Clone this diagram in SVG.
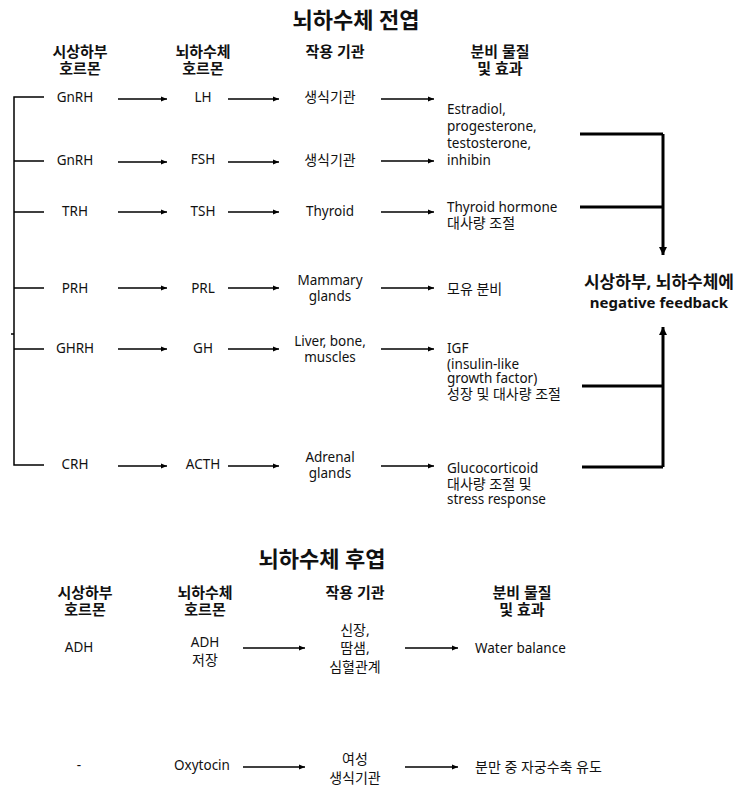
<svg xmlns="http://www.w3.org/2000/svg" width="748" height="800" viewBox="0 0 748 800">
<defs>
<marker id="ah" viewBox="0 0 10 10" refX="10" refY="5" markerWidth="8" markerHeight="6" markerUnits="userSpaceOnUse" orient="auto">
<path d="M0,1 L10,5 L0,9 z" fill="#000"/>
</marker>
<marker id="ahb" viewBox="0 0 10 10" refX="10" refY="5" markerWidth="10" markerHeight="8" markerUnits="userSpaceOnUse" orient="auto">
<path d="M0,0 L10,5 L0,10 z" fill="#000"/>
</marker>
<style>
text{font-family:"Noto Sans","Noto Sans CJK KR",sans-serif;fill:#111;}
.t{font-size:13.5px;}
.k{font-size:14px;}
.c{text-anchor:middle;}
.h{font-size:15px;font-weight:bold;text-anchor:middle;}
.title{font-size:22px;font-weight:bold;text-anchor:middle;}
.fb{font-size:15px;font-weight:bold;text-anchor:middle;}
.fk{font-size:17px;}
.a{stroke:#000;stroke-width:1.5;fill:none;marker-end:url(#ah);}
.l{stroke:#000;stroke-width:1.5;fill:none;}
.b{stroke:#000;stroke-width:3;fill:none;}
.ba{stroke:#000;stroke-width:3;fill:none;marker-end:url(#ahb);}
</style>
</defs>
<rect width="748" height="800" fill="#fff"/>

<g id="title-anterior"><text class="title" x="356" y="28">뇌하수체 전엽</text></g>
<g id="headers-anterior">
<text class="h" x="80" y="57">시상하부</text><text class="h" x="80" y="74">호르몬</text>
<text class="h" x="203" y="57">뇌하수체</text><text class="h" x="203" y="74">호르몬</text>
<text class="h" x="335" y="57">작용 기관</text>
<text class="h" x="500" y="57">분비 물질</text><text class="h" x="500" y="74">및 효과</text>
</g>

<g id="row-lh">
<text class="t c" x="75" y="102">GnRH</text>
<text class="t c" x="203" y="102">LH</text>
<text class="t k c" x="330" y="102">생식기관</text>
</g>
<g id="effect-gonad">
<text class="t" x="447" y="114">Estradiol,</text>
<text class="t" x="447" y="131">progesterone,</text>
<text class="t" x="447" y="148">testosterone,</text>
<text class="t" x="447" y="165">inhibin</text>
</g>
<g id="row-fsh">
<text class="t c" x="75" y="165">GnRH</text>
<text class="t c" x="203" y="164">FSH</text>
<text class="t k c" x="330" y="165">생식기관</text>
</g>
<g id="row-tsh">
<text class="t c" x="75" y="216">TRH</text>
<text class="t c" x="203" y="216">TSH</text>
<text class="t c" x="330" y="216">Thyroid</text>
<text class="t" x="447" y="212">Thyroid hormone</text>
<text class="t k" x="447" y="228">대사량 조절</text>
</g>
<g id="row-prl">
<text class="t c" x="75" y="293">PRH</text>
<text class="t c" x="203" y="293">PRL</text>
<text class="t c" x="330" y="285">Mammary</text>
<text class="t c" x="330" y="301">glands</text>
<text class="t k" x="447" y="294">모유 분비</text>
</g>
<g id="row-gh">
<text class="t c" x="75" y="353">GHRH</text>
<text class="t c" x="203" y="353">GH</text>
<text class="t c" x="330" y="346">Liver, bone,</text>
<text class="t c" x="330" y="362">muscles</text>
<text class="t" x="447" y="353">IGF</text>
<text class="t" x="447" y="369">(insulin-like</text>
<text class="t" x="447" y="383">growth factor)</text>
<text class="t k" x="447" y="399">성장 및 대사량 조절</text>
</g>
<g id="row-acth">
<text class="t c" x="75" y="469">CRH</text>
<text class="t c" x="203" y="469">ACTH</text>
<text class="t c" x="330" y="462">Adrenal</text>
<text class="t c" x="330" y="478">glands</text>
<text class="t" x="447" y="473">Glucocorticoid</text>
<text class="t k" x="447" y="489">대사량 조절 및</text>
<text class="t" x="447" y="504">stress response</text>
</g>
<g id="feedback">
<text class="fb fk" x="659" y="288">시상하부, 뇌하수체에</text>
<text class="fb" x="659" y="308">negative feedback</text>
</g>

<g id="title-posterior"><text class="title" x="322" y="567">뇌하수체 후엽</text></g>
<g id="headers-posterior">
<text class="h" x="85" y="598">시상하부</text><text class="h" x="85" y="615">호르몬</text>
<text class="h" x="205" y="598">뇌하수체</text><text class="h" x="205" y="615">호르몬</text>
<text class="h" x="355" y="598">작용 기관</text>
<text class="h" x="522" y="598">분비 물질</text><text class="h" x="522" y="615">및 효과</text>
</g>
<g id="row-adh">
<text class="t c" x="79" y="652">ADH</text>
<text class="t c" x="205" y="647">ADH</text>
<text class="t k c" x="205" y="665">저장</text>
<text class="t k c" x="355" y="635">신장,</text>
<text class="t k c" x="355" y="653">땀샘,</text>
<text class="t k c" x="355" y="672">심혈관계</text>
<text class="t" x="475" y="653">Water balance</text>
</g>
<g id="row-oxytocin">
<text class="t c" x="79" y="770">-</text>
<text class="t c" x="202" y="770">Oxytocin</text>
<text class="t k c" x="355" y="764">여성</text>
<text class="t k c" x="355" y="783">생식기관</text>
<text class="t k" x="475" y="772">분만 중 자궁수축 유도</text>
</g>

<g id="connectors">
<path class="l" d="M44,97 H14 V465 H44"/>
<path class="l" d="M14,161 H44 M14,212 H44 M14,288 H44 M14,349 H44 M11,334 H14"/>
<path class="a" d="M118,99 H167"/><path class="a" d="M228,99 H279"/><path class="a" d="M381,99 H434"/>
<path class="a" d="M118,162 H167"/><path class="a" d="M228,162 H279"/><path class="a" d="M381,161 H434"/>
<path class="a" d="M118,212 H167"/><path class="a" d="M228,212 H279"/><path class="a" d="M381,212 H434"/>
<path class="a" d="M118,288 H167"/><path class="a" d="M228,288 H279"/><path class="a" d="M381,288 H434"/>
<path class="a" d="M118,349 H167"/><path class="a" d="M228,349 H279"/><path class="a" d="M381,349 H434"/>
<path class="a" d="M118,466 H167"/><path class="a" d="M228,466 H279"/><path class="a" d="M381,466 H434"/>
<path class="b" d="M580,134 H663 M580,207 H663"/>
<path class="ba" d="M663,134 V255"/>
<path class="b" d="M582,386 H663 M582,467 H663"/>
<path class="ba" d="M663,467 V327"/>
<path class="a" d="M243,648 H305"/><path class="a" d="M405,648 H458"/>
<path class="a" d="M243,767 H305"/><path class="a" d="M405,767 H458"/>
</g>
</svg>
